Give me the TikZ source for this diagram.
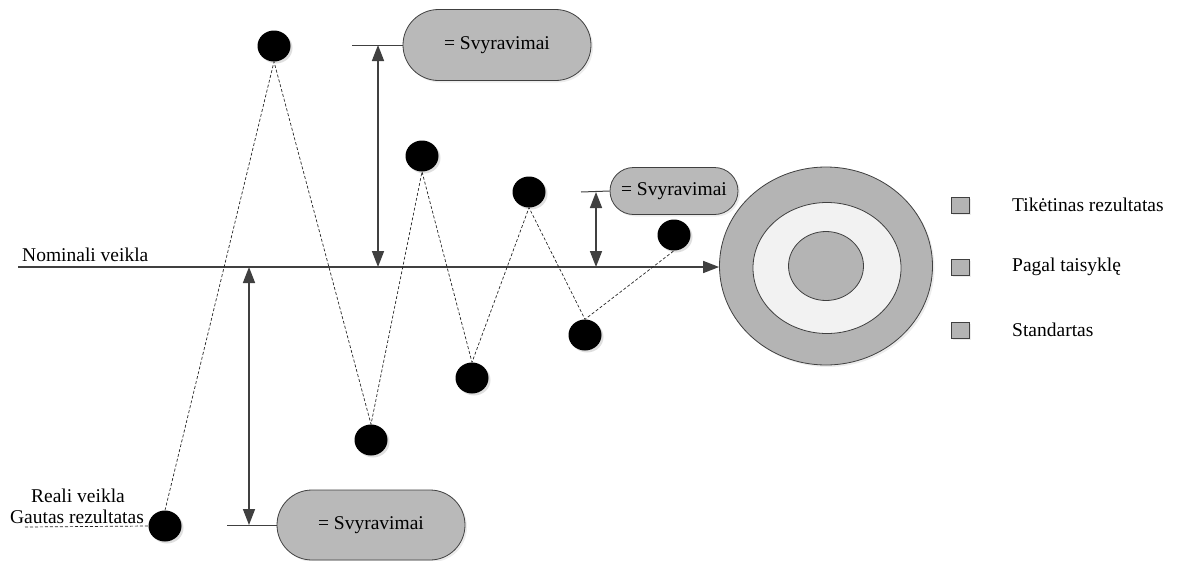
\documentclass[tikz,border=0pt]{standalone}
\usepackage{fontspec}
\setmainfont{Liberation Serif}
\usetikzlibrary{shapes.geometric,shapes.misc,shadows,arrows.meta}
\definecolor{ln}{HTML}{404040}
\definecolor{gfill}{HTML}{B4B4B4}
\definecolor{bfill}{HTML}{B9B9B9}
\definecolor{wfill}{HTML}{F2F2F2}
\tikzset{
  dot/.style={ellipse, fill=black, minimum width=33pt, minimum height=31pt, inner sep=0pt,
    drop shadow={shadow xshift=2pt, shadow yshift=-2pt, fill=black!25}},
  pill/.style={rounded rectangle, draw=ln, line width=0.8pt, fill=bfill, inner sep=0pt,
    font=\fontsize{19.5}{23}\selectfont,
    drop shadow={shadow xshift=2pt, shadow yshift=-2pt, fill=black!15}},
  dsh/.style={draw=black!85, line width=0.7pt, dash pattern=on 3pt off 2pt},
  conn/.style={draw=ln, line width=1.6pt},
  tip/.style={-{Triangle[length=16pt,width=12pt]}},
  dtip/.style={{Triangle[length=16pt,width=12pt]}-{Triangle[length=16pt,width=12pt]}},
  ring/.style={ellipse, draw=ln, line width=0.8pt, inner sep=0pt},
  lsq/.style={rectangle, draw=ln, line width=0.6pt, fill=gfill, minimum width=18pt, minimum height=16pt, inner sep=0pt,
    drop shadow={shadow xshift=1.5pt, shadow yshift=-1.5pt, fill=black!15}},
  lbl/.style={inner sep=0pt, font=\fontsize{19.5}{23}\selectfont}
}
\begin{document}
\begin{tikzpicture}[x=1pt,y=-1pt]
\useasboundingbox (0,0) rectangle (1181,560);
% target
\node[ring, fill=gfill, minimum width=213pt, minimum height=198pt, drop shadow={shadow xshift=2pt, shadow yshift=-2pt, fill=black!15}] (outer) at (826,266) {};
\node[ring, fill=wfill, minimum width=148pt, minimum height=131pt] (mid) at (827,268) {};
\node[ring, fill=gfill, minimum width=75pt, minimum height=69pt] (inner) at (826,266) {};
% nominal line
\coordinate (n0) at (18,267);
\draw[conn, tip] (n0) -- (n0 -| outer.west);
\node[lbl, anchor=base west] (nom) at (22,261) {Nominali veikla};
% dots
\node[dot] (d1) at (274,46) {};
\node[dot] (d2) at (422,156) {};
\node[dot] (d3) at (529,192) {};
\node[dot] (d4) at (674,235) {};
\node[dot] (d5) at (585,335) {};
\node[dot] (d6) at (472,378) {};
\node[dot] (d7) at (371,440) {};
\node[dot] (d8) at (165,526) {};
% dashed path
\draw[dsh] (d8.north) -- (d1.south) -- (d7.north) -- (d2.south) -- (d6.north) -- (d3.south) -- (d5.north) -- (d4.south);
% bottom-left labels
\node[lbl, anchor=base] (rv) at (78,502) {Reali veikla};
\node[lbl, anchor=base] (gr) at (77,523) {Gautas rezultatas};
\coordinate (u0) at (25,527);
\draw[dsh] (u0) -- (d8.west);
% boxes
\node[pill, minimum width=188pt, minimum height=71pt] (b1) at (497,45) {= Svyravimai};
\node[pill, minimum width=128pt, minimum height=47pt] (b2) at (674,191) {= Svyravimai};
\node[pill, minimum width=188pt, minimum height=70pt] (b3) at (371,525) {= Svyravimai};
% box leaders
\coordinate (h1) at (352,45);
\coordinate (h2) at (581,192);
\coordinate (h3) at (227,525);
\draw[conn, line width=1pt] (h1) -- (b1.west);
\draw[conn, line width=1pt] (h2) -- (b2.west);
\draw[conn, line width=1pt] (h3) -- (b3.west);
% deviation arrows
\coordinate (a1t) at (378,45);
\coordinate (a1b) at (378,267);
\coordinate (a2t) at (596,192);
\coordinate (a2b) at (596,267);
\coordinate (a3t) at (249,267);
\coordinate (a3b) at (249,525);
\draw[conn, dtip] (a1t) -- (a1b);
\draw[conn, dtip] (a2t) -- (a2b);
\draw[conn, dtip] (a3t) -- (a3b);
% legend
\node[lsq] (s1) at (960,205) {};
\node[lsq] (s2) at (960,267) {};
\node[lsq] (s3) at (960,330) {};
\node[lbl, anchor=west] (t1) at (1012,205) {Tikėtinas rezultatas};
\node[lbl, anchor=west] (t2) at (1012,267) {Pagal taisyklę};
\node[lbl, anchor=west] (t3) at (1012,330) {Standartas};
\end{tikzpicture}
\end{document}
